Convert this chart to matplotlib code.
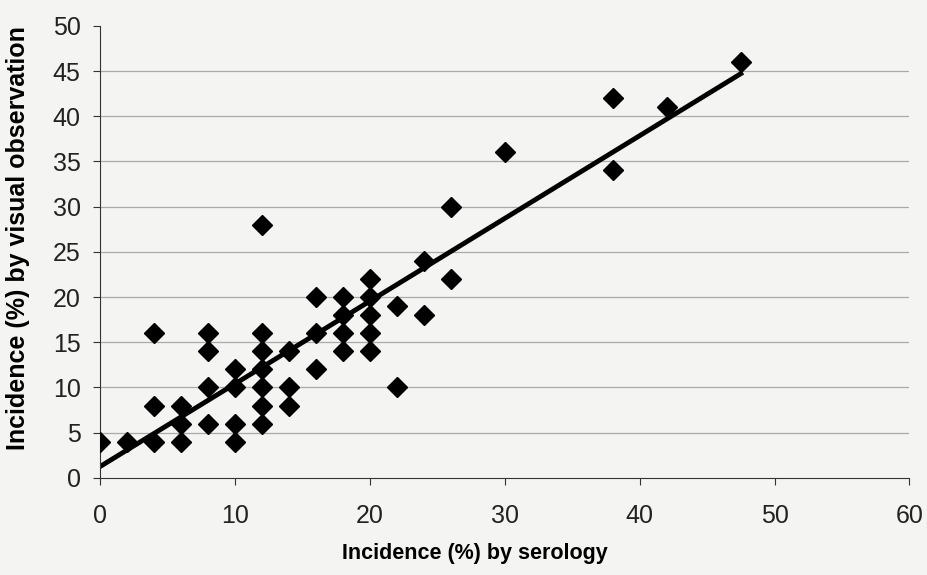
import numpy as np
import matplotlib
matplotlib.use('Agg')
from matplotlib import pyplot as plt

plt.rcParams['font.family'] = ['Liberation Sans', 'DejaVu Sans']

# incidence by serology (x) and by visual observation (y), in %
serology = [0, 2, 4, 4, 4, 6, 6, 6,
            8, 8, 8, 8, 10, 10, 10, 10,
            12, 12, 12, 12, 12, 12, 12,
            14, 14, 14, 16, 16, 16,
            18, 18, 18, 18, 20, 20, 20, 20, 20,
            22, 22, 24, 24, 26, 26, 30, 38, 38, 42, 47.5]
visual = [4, 4, 16, 8, 4, 8, 6, 4,
          16, 14, 10, 6, 12, 10, 6, 4,
          28, 16, 14, 12, 10, 8, 6,
          14, 10, 8, 20, 16, 12,
          20, 18, 16, 14, 22, 20, 18, 16, 14,
          19, 10, 24, 18, 30, 22, 36, 42, 34, 41, 46]

# linear trend line as drawn in the original
slope = 0.915
intercept = 1.25
trend_x = [0, 47.5]

bg = '#f4f4f2'
fig = plt.figure(figsize=(9.27, 5.75), dpi=100, facecolor=bg)
ax = fig.add_axes([0.108, 0.169, 0.873, 0.786])
ax.set_facecolor(bg)

ax.plot(serology, visual, 'D', color='black', ms=10, zorder=3)
tx = np.array(trend_x)
ax.plot(tx, slope * tx + intercept, color='black', lw=3.5, zorder=2)

ax.set_xlim(0, 60)
ax.set_ylim(0, 50)
ax.set_xticks(range(0, 61, 10))
ax.set_yticks(range(0, 51, 5))
for v in range(5, 50, 5):
    ax.axhline(v, color='#aaaaaa', lw=0.9, zorder=1)
for s in ['top', 'right']:
    ax.spines[s].set_visible(False)
for s in ['left', 'bottom']:
    ax.spines[s].set_color('#333333')
ax.tick_params(labelsize=18, length=5, color='#333333', labelcolor='#222222')
ax.tick_params(axis='y', pad=9)
ax.tick_params(axis='x', pad=14)

ax.set_xlabel('Incidence (%) by serology', fontsize=15.5, fontweight='bold', va='center')
ax.set_ylabel('Incidence (%) by visual observation', fontsize=18, fontweight='bold', va='center')
ax.xaxis.set_label_coords(0.463, -0.168)
ax.yaxis.set_label_coords(-0.102, 0.53)

plt.savefig('out.png', dpi=100, facecolor=fig.get_facecolor())
